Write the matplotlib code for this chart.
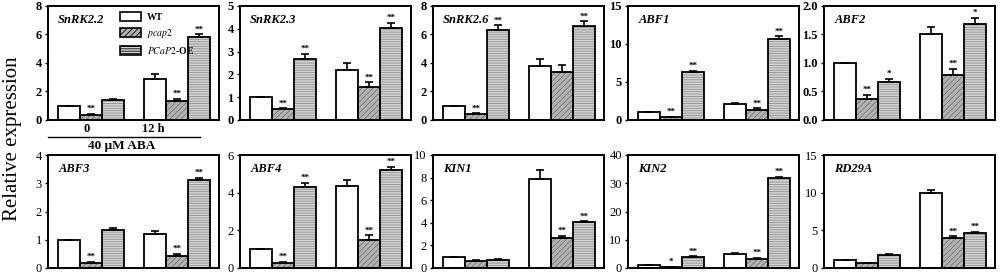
import numpy as np
import matplotlib
matplotlib.use("Agg")
import matplotlib.pyplot as plt
from matplotlib.patches import Patch

plt.rcParams["font.family"] = ["Liberation Serif", "DejaVu Serif"]
plt.rcParams["mathtext.fontset"] = "stix"
plt.rcParams["hatch.linewidth"] = 0.6

# genes, in panel order (top row then bottom row)
genes = ["SnRK2.2", "SnRK2.3", "SnRK2.6", "ABF1", "ABF2",
         "ABF3", "ABF4", "KIN1", "KIN2", "RD29A"]
groups = ["0", "12 h"]

# values for [0 h, 12 h]
wt = [[1.0, 2.9], [1.0, 2.2], [1.0, 3.8], [1.0, 2.1], [1.0, 1.51],
      [1.0, 1.21], [1.0, 4.36], [1.0, 7.9], [1.0, 5.0], [1.0, 9.9]]
wt_err = [[0.0, 0.35], [0.0, 0.3], [0.0, 0.5], [0.0, 0.15], [0.0, 0.12],
          [0.0, 0.1], [0.0, 0.3], [0.0, 0.8], [0.0, 0.3], [0.0, 0.5]]
pcap2 = [[0.35, 1.3], [0.49, 1.46], [0.42, 3.36], [0.4, 1.35], [0.37, 0.79],
         [0.18, 0.44], [0.28, 1.51], [0.62, 2.66], [0.4, 3.2], [0.62, 3.92]]
pcap2_err = [[0.08, 0.2], [0.03, 0.2], [0.05, 0.5], [0.05, 0.2], [0.07, 0.11],
             [0.04, 0.06], [0.06, 0.22], [0.05, 0.2], [0.1, 0.35], [0.08, 0.3]]
pcap2_sig = [["**", "**"], ["**", "**"], ["**", ""], ["**", "**"], ["**", "**"],
             ["**", "**"], ["**", "**"], ["", "**"], ["*", "**"], ["", "**"]]
oe = [[1.4, 5.83], [2.69, 4.02], [6.33, 6.62], [6.25, 10.7], [0.66, 1.69],
      [1.33, 3.1], [4.32, 5.2], [0.72, 4.03], [3.8, 31.9], [1.74, 4.58]]
oe_err = [[0.08, 0.17], [0.22, 0.25], [0.32, 0.32], [0.22, 0.3], [0.06, 0.1],
          [0.1, 0.1], [0.2, 0.17], [0.05, 0.12], [0.3, 0.4], [0.15, 0.2]]
oe_sig = [["", "**"], ["**", "**"], ["**", "**"], ["**", "**"], ["*", "*"],
          ["", "**"], ["**", "**"], ["", "**"], ["**", "**"], ["", "**"]]
ytop = [8, 5, 8, 15, 2.0, 4, 6, 10, 40, 15]
ystep = [2, 1, 2, 5, 0.5, 1, 2, 2, 10, 5]

fig = plt.figure(figsize=(10, 2.77), dpi=100)
lefts = [48, 240, 433, 628, 824]
W, H = 1000, 277

x = np.array([0, 3.9])
bw = 1.0
styles = [
    dict(fc="white", hatch=None, hc="white"),
    dict(fc="#b4b4b4", hatch="//////", hc="#707070"),
    dict(fc="#d6d6d6", hatch="-------", hc="#8c8c8c"),
]

for i, g in enumerate(genes):
    row, col = divmod(i, 5)
    top_px = 6 if row == 0 else 155
    bot_px = 120 if row == 0 else 268
    ax = fig.add_axes([lefts[col] / W, 1 - bot_px / H, 171 / W, (bot_px - top_px) / H])
    series = [(wt[i], wt_err[i], ["", ""]),
              (pcap2[i], pcap2_err[i], pcap2_sig[i]),
              (oe[i], oe_err[i], oe_sig[i])]
    for k, (vals, errs, sig) in enumerate(series):
        st = styles[k]
        pos = x + (k - 1) * bw
        # fill + hatch, then black outline on top
        ax.bar(pos, vals, bw, color=st["fc"], hatch=st["hatch"],
               edgecolor=st["hc"], linewidth=0, zorder=2)
        ax.bar(pos, vals, bw, fill=False, edgecolor="black", linewidth=1.3, zorder=3)
        errs = np.array(errs)
        ax.errorbar(pos, vals, yerr=[np.zeros_like(errs), errs], fmt="none",
                    ecolor="black", elinewidth=1.2, capsize=2.8, capthick=1.2, zorder=4)
        for p, v, e, s in zip(pos, vals, errs, sig):
            if s:
                ax.annotate(s, (p, v + e), xytext=(0, 0.5), textcoords="offset points",
                            ha="center", va="bottom", fontsize=6.5, fontweight="bold")
    ax.set_xlim(-1.95, 5.8)
    ax.set_ylim(0, ytop[i])
    yt = np.arange(0, ytop[i] + 1e-9, ystep[i])
    ax.set_yticks(yt)
    if ystep[i] < 1:
        ax.set_yticklabels([f"{v:.1f}" for v in yt])
    else:
        ax.set_yticklabels([f"{v:g}" for v in yt])
    for sp in ax.spines.values():
        sp.set_linewidth(1.4)
    ax.tick_params(axis="y", length=2.5, width=1.0, labelsize=9, pad=2)
    if row == 0:
        for t in ax.get_yticklabels():
            t.set_fontweight("bold")
    ax.text(0.06, 0.88, g, transform=ax.transAxes, fontsize=9, fontstyle="italic",
            fontweight="bold", ha="left", va="center")
    if i == 0:
        ax.set_xticks([-0.2, 2.8])
        ax.set_xticklabels(groups, fontsize=9, fontweight="bold")
        ax.tick_params(axis="x", length=0, pad=2)
        ax.plot([0, 0.89], [-0.15, -0.15], color="black", lw=1.0,
                transform=ax.transAxes, clip_on=False)
        ax.text(0.43, -0.23, "40 μM ABA", transform=ax.transAxes, fontsize=9.5,
                fontweight="bold", ha="center", va="center")
        handles = [Patch(facecolor=st["fc"], hatch=st["hatch"], edgecolor="black",
                         linewidth=1.2) for st in styles]
        ax.legend(handles, ["WT", r"$\it{pcap2}$", r"$\it{PCaP2}$-OE"],
                  loc="upper left", bbox_to_anchor=(0.37, 1.02), frameon=False,
                  fontsize=7, handlelength=2.2, handleheight=1.0, labelspacing=0.5,
                  handletextpad=0.6, prop={"weight": "bold", "size": 7})
    else:
        ax.set_xticks([])

fig.text(0.013, 0.5, "Relative expression", rotation=90, ha="center", va="center",
         fontsize=15)

fig.savefig("out.png", dpi=100)
